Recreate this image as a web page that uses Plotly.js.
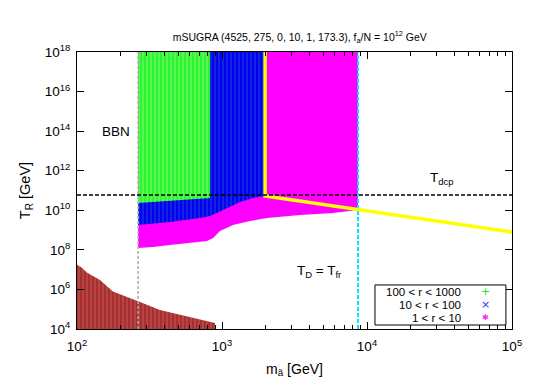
<!DOCTYPE html>
<html>
<head>
<meta charset="utf-8">
<script src="https://cdn.plot.ly/plotly-3.0.1.min.js"></script>
<style>
  html, body { margin: 0; padding: 0; background: #fff; }
  #chart { width: 545px; height: 382px; }
</style>
</head>
<body>
<div id="chart"></div>
<script>
// region boundaries (m in GeV, T as log10 of GeV)
const mBBN      = [100, 108, 117, 144, 177, 221, 272, 373, 513, 705, 895]
const logT_BBN  = [7.25, 7.1, 6.85, 6.48, 5.9, 5.6, 5.36, 4.96, 4.71, 4.45, 4.30]

const mPink     = [264, 334, 437, 574, 788, 868, 968, 1191, 1560, 2042, 3450, 5830, 8670]
const logT_Pink = [8.09, 8.14, 8.24, 8.35, 8.45, 8.60, 8.95, 9.26, 9.46, 9.61, 9.76, 9.86, 10.01]

const mBlue     = [264, 437, 705, 826, 924, 1082, 1330, 1636, 1983]
const logT_Blue = [9.26, 9.41, 9.61, 9.71, 9.86, 10.11, 10.42, 10.62, 10.72]

const mGreen     = [264, 500, 826]
const logT_Green = [10.37, 10.50, 10.62]

const T_top = 18          // upper end of the regions
const T_bottom = 4
const m_BBNedge = 264     // grey dashed line
const m_freeze = 8670     // cyan dashed line, T_D = T_fr
const logT_dcp = 10.77

// yellow line
const mYellow    = [1983, 1983, 100000]
const logT_Yellow = [18, 10.72, 8.9]

const xTicks = [100, 1000, 10000, 100000]
const xTickText = ['10<sup>2</sup>', '10<sup>3</sup>', '10<sup>4</sup>', '10<sup>5</sup>']
const yTicks = [1e4, 1e6, 1e8, 1e10, 1e12, 1e14, 1e16, 1e18]
const yTickText = ['10<sup>4</sup>', '10<sup>6</sup>', '10<sup>8</sup>', '10<sup>10</sup>', '10<sup>12</sup>', '10<sup>14</sup>', '10<sup>16</sup>', '10<sup>18</sup>']

const legendNames = ['100 < r < 1000', '10 < r < 100', '1 < r < 10']
const legendSymbols = ['+', '×', '✱']
const legendColors = ['#22dd22', '#3333ff', '#ff22ff']

function pw(a){ return a.map(v => Math.pow(10, v)) }

// polygon from a lower boundary up to the top of the plot
function region(ms, logTs, top){
	return {
		x: ms.concat([ms[ms.length-1], ms[0]]),
		y: pw(logTs.concat([top, top]))
	}
}

let traces = []

let bbn = {
	x: mBBN.concat([mBBN[mBBN.length-1], mBBN[0]]),
	y: pw(logT_BBN.concat([T_bottom, T_bottom]))
}
traces.push({
	x: bbn.x, y: bbn.y, mode: 'lines', fill: 'toself',
	fillcolor: '#a92f2f',
	fillpattern: {shape: '|', bgcolor: '#a92f2f', fgcolor: '#c25a5a', size: 4, solidity: 0.25},
	line: {width: 0}, hoverinfo: 'skip', showlegend: false
})

let pink = region(mPink, logT_Pink, T_top)
traces.push({
	x: pink.x, y: pink.y, mode: 'lines', fill: 'toself',
	fillcolor: '#ff00ff', line: {width: 0}, hoverinfo: 'skip', showlegend: false
})

let blue = region(mBlue, logT_Blue, T_top)
traces.push({
	x: blue.x, y: blue.y, mode: 'lines', fill: 'toself',
	fillcolor: '#0000f2',
	fillpattern: {shape: '|', bgcolor: '#0000f2', fgcolor: '#1f3ad6', size: 4, solidity: 0.3},
	line: {width: 0}, hoverinfo: 'skip', showlegend: false
})

let green = region(mGreen, logT_Green, T_top)
traces.push({
	x: green.x, y: green.y, mode: 'lines', fill: 'toself',
	fillcolor: '#2ef52e',
	fillpattern: {shape: '|', bgcolor: '#2ef52e', fgcolor: '#7cfc7c', size: 4, solidity: 0.25},
	line: {width: 0}, hoverinfo: 'skip', showlegend: false
})

// grey dashed edge
traces.push({
	x: [m_BBNedge, m_BBNedge], y: pw([T_bottom, T_top]), mode: 'lines',
	line: {color: '#aaaaaa', width: 1.5, dash: '3px,2px'}, hoverinfo: 'skip', showlegend: false
})

// cyan dashed T_D = T_fr
traces.push({
	x: [m_freeze, m_freeze], y: pw([T_bottom, T_top]), mode: 'lines',
	line: {color: '#00e5ff', width: 2, dash: '4px,2px'}, hoverinfo: 'skip', showlegend: false
})

// yellow
traces.push({
	x: mYellow, y: pw(logT_Yellow), mode: 'lines',
	line: {color: '#ffff00', width: 3.5}, hoverinfo: 'skip', showlegend: false
})

// T_dcp
traces.push({
	x: [100, 100000], y: pw([logT_dcp, logT_dcp]), mode: 'lines',
	line: {color: '#000000', width: 1.5, dash: '4px,2px'}, hoverinfo: 'skip', showlegend: false
})

let annotations = [
	{x: Math.log10(186), y: 14.0, text: 'BBN', font: {size: 13.5}},
	{x: Math.log10(32400), y: 11.63, text: 'T<sub>dcp</sub>', font: {size: 13.5}},
	{x: Math.log10(4700), y: 6.93, text: 'T<sub>D</sub> = T<sub>fr</sub>', font: {size: 13.5}}
].map(a => Object.assign({xref: 'x', yref: 'y', showarrow: false}, a))

let rowY = [0.134, 0.087, 0.040]
for(let i=0;i<legendNames.length;i++){
	annotations.push({
		xref: 'paper', yref: 'paper', x: 0.887, y: rowY[i], xanchor: 'right', yanchor: 'middle',
		text: legendNames[i].replace(/</g, '&lt;'), showarrow: false, font: {size: 11.5}
	})
	annotations.push({
		xref: 'paper', yref: 'paper', x: 0.938, y: rowY[i], xanchor: 'center', yanchor: 'middle',
		text: legendSymbols[i], showarrow: false,
		font: {size: i == 2 ? 8 : 11, color: legendColors[i], family: 'DejaVu Sans'}
	})
}

let axisStyle = {
	type: 'log',
	showline: true, linecolor: '#000', linewidth: 1, mirror: 'ticks',
	ticks: 'inside', ticklen: 7, tickcolor: '#000',
	showgrid: false, zeroline: false,
	tickfont: {size: 13.5, color: '#000'}
}

let layout = {
	width: 545, height: 382,
	margin: {l: 77, r: 33, t: 52, b: 53},
	paper_bgcolor: '#fff', plot_bgcolor: '#fff',
	font: {family: 'Liberation Sans, Arial, sans-serif', color: '#000'},
	title: {
		text: 'mSUGRA (4525, 275, 0, 10, 1, 173.3), f<sub>a</sub>/N = 10<sup>12</sup> GeV',
		font: {size: 10.5}, x: 0.55, xref: 'container', xanchor: 'center',
		y: 0.903, yref: 'container', yanchor: 'middle'
	},
	xaxis: Object.assign({}, axisStyle, {
		range: [2, 5], tickvals: xTicks, ticktext: xTickText, ticklabelstandoff: 5,
		minor: {ticks: 'inside', ticklen: 4, dtick: 'D1', tickcolor: '#000', showgrid: false},
		title: {text: 'm<sub>ã</sub> [GeV]', font: {size: 14}, standoff: 10}
	}),
	yaxis: Object.assign({}, axisStyle, {
		range: [4, 18], tickvals: yTicks, ticktext: yTickText, ticklabelstandoff: 3,
		title: {text: 'T<sub>R</sub> [GeV]', font: {size: 14.5}, standoff: 10}
	}),
	shapes: [{
		type: 'rect', xref: 'paper', yref: 'paper',
		x0: 0.685, x1: 0.986, y0: 0.0144, y1: 0.159,
		line: {color: '#000', width: 1}, fillcolor: '#fff', layer: 'above'
	}],
	annotations: annotations,
	showlegend: false
}

Plotly.newPlot('chart', traces, layout, {displayModeBar: false, staticPlot: true})
</script>
</body>
</html>
